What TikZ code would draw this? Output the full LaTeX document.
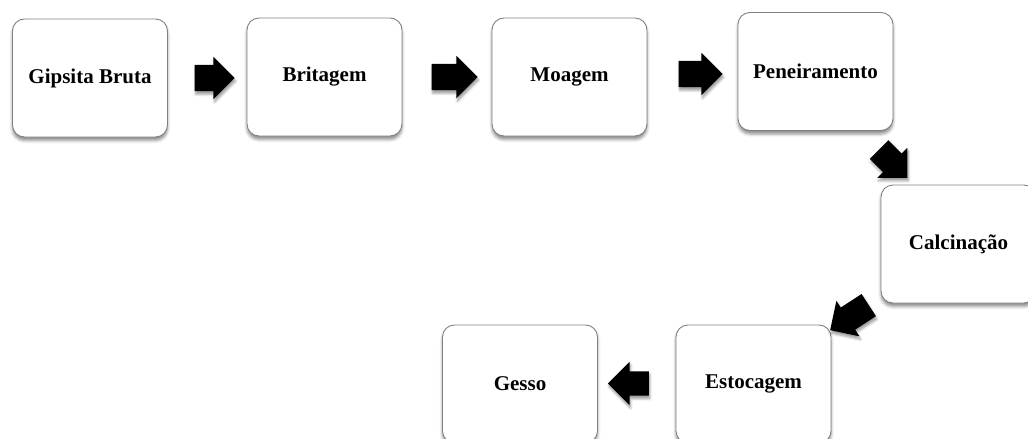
\documentclass[tikz,border=0pt]{standalone}
\usepackage{fontspec}
\setmainfont{Liberation Serif}
\usetikzlibrary{shapes.arrows,shadows.blur}
\begin{document}
\begin{tikzpicture}[x=1pt,y=-1pt,
  stepbox/.style={draw=black!50,line width=0.9pt,fill=white,rounded corners=12pt,
    minimum width=155pt,minimum height=118pt,inner sep=0pt,
    font=\fontsize{21}{24}\selectfont\bfseries,
    blur shadow={shadow xshift=0pt,shadow yshift=-3.5pt,shadow blur radius=3pt,shadow opacity=45}},
  blockarrow/.style={single arrow,fill=black,inner xsep=0pt,inner ysep=13pt,
    single arrow head extend=8pt,minimum height=#1,
    blur shadow={shadow xshift=1pt,shadow yshift=-3pt,shadow blur radius=2.5pt,shadow opacity=40}},
]
\useasboundingbox (0,0) rectangle (1028,439);
\node[stepbox] (gip) at (90,78) {Gipsita Bruta};
\node[stepbox] (bri) at (324.5,77) {Britagem};
\node[stepbox] (moa) at (569.5,77) {Moagem};
\node[stepbox] (pen) at (815.5,71.5) {Peneiramento};
\node[stepbox] (cal) at (958.5,244) {Calcinação};
\node[stepbox] (est) at (753.5,384) {Estocagem};
\node[stepbox] (ges) at (520,384) {Gesso};
\node[blockarrow=40pt] (a1) at (208,78) {};
\node[blockarrow=46pt] (a2) at (448,77) {};
\node[blockarrow=44pt] (a3) at (694,74) {};
\node[blockarrow=40pt,rotate=-45] (a4) at (888.5,159) {};
\node[blockarrow=46pt,rotate=213] (a5) at (855,314) {};
\node[blockarrow=41pt,rotate=180,inner ysep=12pt,single arrow head extend=9.5pt] (a6) at (634.5,383.5) {};
\end{tikzpicture}
\end{document}
